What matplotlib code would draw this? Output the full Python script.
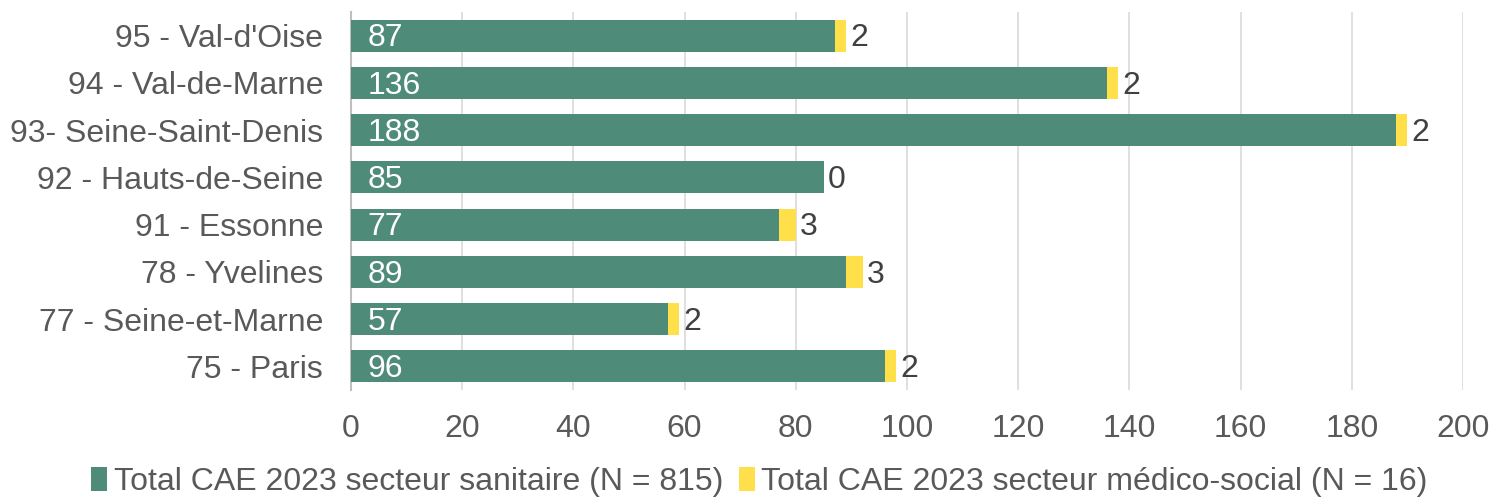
import matplotlib.pyplot as plt
import numpy as np

plt.rcParams['font.family'] = ['Liberation Sans', 'DejaVu Sans']

departements = ["75 - Paris", "77 - Seine-et-Marne", "78 - Yvelines", "91 - Essonne",
                "92 - Hauts-de-Seine", "93- Seine-Saint-Denis", "94 - Val-de-Marne",
                "95 - Val-d'Oise"]
sanitaire = [96, 57, 89, 77, 85, 188, 136, 87]
medico_social = [2, 2, 3, 3, 0, 2, 2, 2]
xticks = [0, 20, 40, 60, 80, 100, 120, 140, 160, 180, 200]

green = "#4E8B78"
yellow = "#FFE04A"
grey_txt = "#595959"

fig = plt.figure(figsize=(14.95, 5.01), dpi=100)
ax = fig.add_axes([351 / 1495, 111 / 501, 1112 / 1495, 378 / 501])

y = np.arange(len(departements))
b1 = ax.barh(y, sanitaire, height=0.68, color=green, label="Total CAE 2023 secteur sanitaire (N = 815)", zorder=3)
b2 = ax.barh(y, medico_social, left=sanitaire, height=0.68, color=yellow,
             label="Total CAE 2023 secteur médico-social (N = 16)", zorder=3)

for i in range(len(y)):
    ax.text(3, y[i] - 0.06, str(sanitaire[i]), color="white", fontsize=23, va="center", ha="left",
            zorder=4)
    end = sanitaire[i] + medico_social[i]
    ax.text(end + 0.8, y[i] - 0.06, str(medico_social[i]), color="#404040", fontsize=23,
            va="center", ha="left", zorder=4)

ax.set_xlim(0, 200)
ax.set_ylim(-0.5, len(departements) - 0.5)
ax.set_xticks(xticks)
ax.set_yticks(y)
ax.set_yticklabels(departements)
ax.tick_params(axis="both", length=0, labelsize=23, colors=grey_txt)
ax.tick_params(axis="x", pad=17)
ax.tick_params(axis="y", pad=20)
for lab in ax.get_yticklabels():
    lab.set_va("center_baseline")
ax.grid(axis="x", color="#D9D9D9", linewidth=1.2, zorder=0)
for s in ["top", "right", "bottom"]:
    ax.spines[s].set_visible(False)
ax.spines["left"].set_color("#BFBFBF")
ax.spines["left"].set_linewidth(1.5)

fig.legend(handles=[b1, b2], loc="lower center", bbox_to_anchor=(0.508, -0.05), ncol=2,
           frameon=False, fontsize=23, labelcolor=grey_txt, handlelength=0.5,
           handleheight=0.8, handletextpad=0.2, columnspacing=0.5)

fig.savefig("out.png", dpi=100)
